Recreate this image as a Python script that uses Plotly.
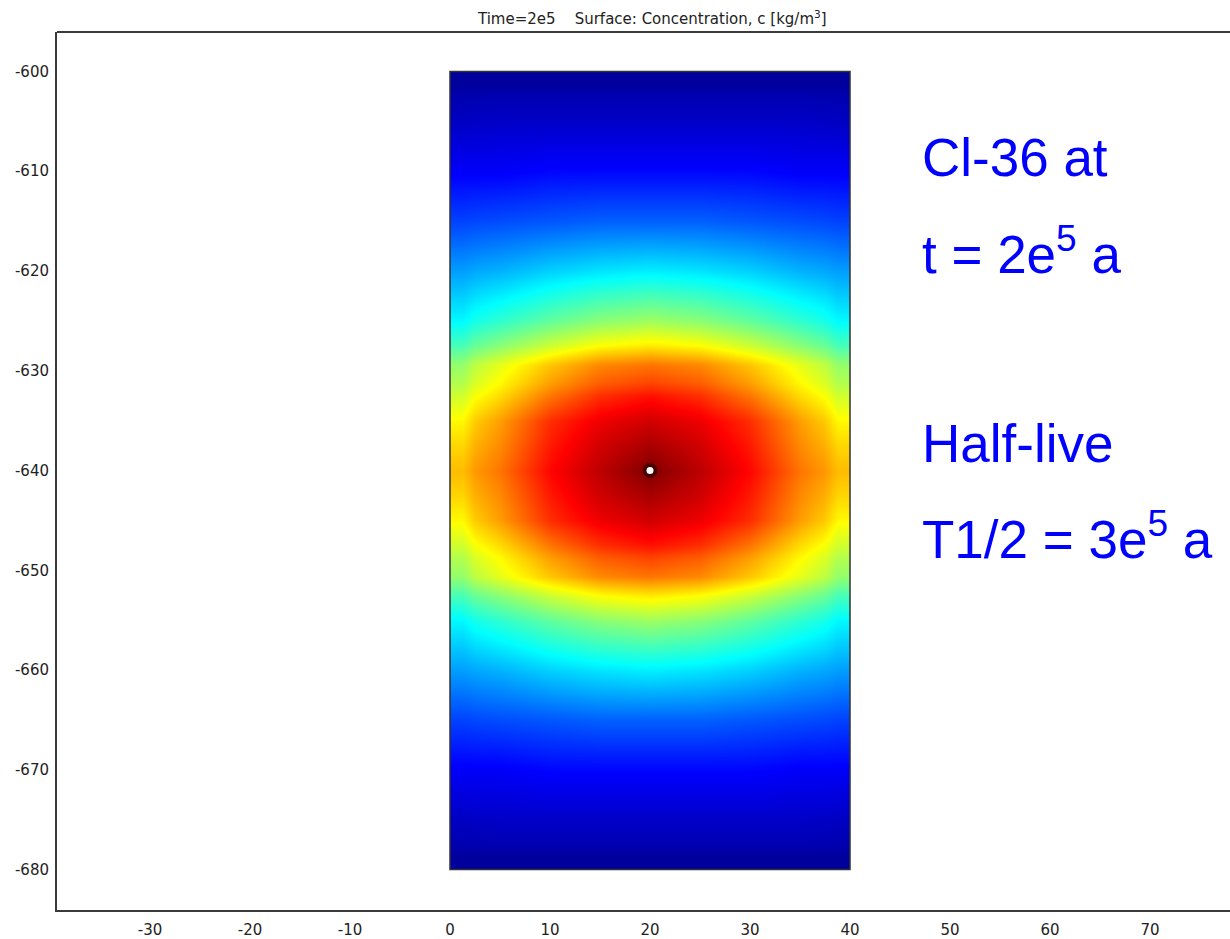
import numpy as np
import plotly.graph_objects as go

# ---- data ----
# grid sample positions (cell centres) of the concentration field
X_POS = [0, 5, 10, 15, 20, 25, 30, 35, 40]
Y_POS = [-680, -675, -670, -665, -660, -655, -650, -647.5, -645, -642.5, -640,
         -637.5, -635, -632.5, -630, -625, -620, -615, -610, -605, -600]

# normalised concentration (0 = min, 1 = max of colour range), rows follow Y_POS
CONC = [
    [0.025, 0.025, 0.025, 0.025, 0.025, 0.025, 0.025, 0.025, 0.025],  # -680
    [0.065, 0.07, 0.07, 0.07, 0.07, 0.07, 0.07, 0.07, 0.065],          # -675
    [0.12, 0.12, 0.13, 0.13, 0.13, 0.13, 0.13, 0.12, 0.12],            # -670
    [0.19, 0.20, 0.21, 0.22, 0.22, 0.22, 0.21, 0.20, 0.19],            # -665
    [0.28, 0.30, 0.33, 0.35, 0.36, 0.35, 0.33, 0.30, 0.28],            # -660
    [0.37, 0.42, 0.47, 0.51, 0.53, 0.51, 0.47, 0.42, 0.37],            # -655
    [0.52, 0.60, 0.68, 0.74, 0.76, 0.74, 0.68, 0.60, 0.52],            # -650
    [0.58, 0.66, 0.76, 0.83, 0.86, 0.83, 0.76, 0.66, 0.58],            # -647.5
    [0.63, 0.72, 0.83, 0.89, 0.92, 0.89, 0.83, 0.72, 0.63],            # -645
    [0.665, 0.74, 0.85, 0.92, 0.96, 0.92, 0.85, 0.74, 0.665],          # -642.5
    [0.69, 0.76, 0.87, 0.94, 1.00, 0.94, 0.87, 0.76, 0.69],            # -640
    [0.665, 0.74, 0.85, 0.92, 0.96, 0.92, 0.85, 0.74, 0.665],          # -637.5
    [0.63, 0.72, 0.83, 0.89, 0.92, 0.89, 0.83, 0.72, 0.63],            # -635
    [0.58, 0.66, 0.76, 0.83, 0.86, 0.83, 0.76, 0.66, 0.58],            # -632.5
    [0.52, 0.60, 0.68, 0.74, 0.76, 0.74, 0.68, 0.60, 0.52],            # -630
    [0.37, 0.42, 0.47, 0.51, 0.53, 0.51, 0.47, 0.42, 0.37],            # -625
    [0.28, 0.30, 0.33, 0.35, 0.36, 0.35, 0.33, 0.30, 0.28],            # -620
    [0.19, 0.20, 0.21, 0.22, 0.22, 0.22, 0.21, 0.20, 0.19],            # -615
    [0.12, 0.12, 0.13, 0.13, 0.13, 0.13, 0.13, 0.12, 0.12],            # -610
    [0.065, 0.07, 0.07, 0.07, 0.07, 0.07, 0.07, 0.07, 0.065],          # -605
    [0.025, 0.025, 0.025, 0.025, 0.025, 0.025, 0.025, 0.025, 0.025],  # -600
]

SOURCE_X = [20]
SOURCE_Y = [-640]

X_TICKS = [-30, -20, -10, 0, 10, 20, 30, 40, 50, 60, 70]
Y_TICKS = [-680, -670, -660, -650, -640, -630, -620, -610, -600]
X_LABELS = ["-30", "-20", "-10", "0", "10", "20", "30", "40", "50", "60", "70"]
Y_LABELS = ["-680", "-670", "-660", "-650", "-640", "-630", "-620", "-610", "-600"]

TITLE = "Time=2e5&nbsp;&nbsp;&nbsp;&nbsp;Surface: Concentration, c [kg/m<sup>3</sup>]"
NOTES = ["Cl-36 at", "t = 2e<sup>5</sup> a", "Half-live", "T1/2 = 3e<sup>5</sup> a"]
NOTE_Y = [-608.6, -617.9, -637.3, -646.5]


def edges(c):
    c = np.asarray(c, dtype=float)
    mid = (c[:-1] + c[1:]) / 2
    return np.concatenate([[c[0]], mid, [c[-1]]])


xe = edges(X_POS)
ye = edges(Y_POS)

jet = [
    [0.0, "rgb(0,0,131)"],
    [0.125, "rgb(0,0,255)"],
    [0.375, "rgb(0,255,255)"],
    [0.625, "rgb(255,255,0)"],
    [0.875, "rgb(255,0,0)"],
    [1.0, "rgb(128,0,0)"],
]

fig = go.Figure()
fig.add_trace(go.Heatmap(
    x=xe, y=ye, z=CONC, zsmooth="best", colorscale=jet, zmin=0, zmax=1,
    showscale=False, hoverinfo="skip",
))
fig.add_trace(go.Scatter(
    x=SOURCE_X, y=SOURCE_Y, mode="markers",
    marker=dict(size=15, color="rgba(30,0,0,0.6)", line=dict(width=0)),
    hoverinfo="skip", showlegend=False,
))
fig.add_trace(go.Scatter(
    x=SOURCE_X, y=SOURCE_Y, mode="markers",
    marker=dict(size=7, color="white", line=dict(width=0)),
    hoverinfo="skip", showlegend=False,
))

# outline of the domain
fig.add_shape(type="rect", x0=min(X_POS), x1=max(X_POS), y0=min(Y_POS), y1=max(Y_POS),
              xref="x", yref="y", line=dict(color="#333333", width=1.5))
# top frame line
fig.add_shape(type="line", x0=0, x1=1, y0=1, y1=1, xref="paper", yref="paper",
              line=dict(color="#3a3a3a", width=2))

tickfont = dict(family="DejaVu Sans", size=15, color="#222222")
fig.update_xaxes(range=[-39.3, 78.0], tickvals=X_TICKS, ticktext=X_LABELS,
                 showgrid=False, zeroline=False,
                 showline=True, linecolor="#3a3a3a", linewidth=2, ticks="",
                 tickfont=tickfont, ticklabelstandoff=5)
fig.update_yaxes(range=[-684.05, -596.05], tickvals=Y_TICKS, ticktext=Y_LABELS,
                 showgrid=False, zeroline=False,
                 showline=True, linecolor="#3a3a3a", linewidth=2, ticks="",
                 tickfont=tickfont, ticklabelstandoff=3)

fig.add_annotation(text=TITLE, xref="paper", yref="paper", x=0.507, y=1.0165,
                   xanchor="center", yanchor="middle", showarrow=False,
                   font=dict(family="DejaVu Sans", size=15, color="#222222"))

for t, yv in zip(NOTES, NOTE_Y):
    fig.add_annotation(text=t, x=47, y=yv, xref="x", yref="y", xanchor="left",
                       yanchor="middle", showarrow=False,
                       font=dict(family="Liberation Sans, Arial", size=53, color="#0000ff"))

fig.update_layout(
    width=1230, height=939,
    margin=dict(l=57, r=0, t=32, b=27),
    paper_bgcolor="white", plot_bgcolor="white",
    showlegend=False,
)

fig.write_html("out.html")
